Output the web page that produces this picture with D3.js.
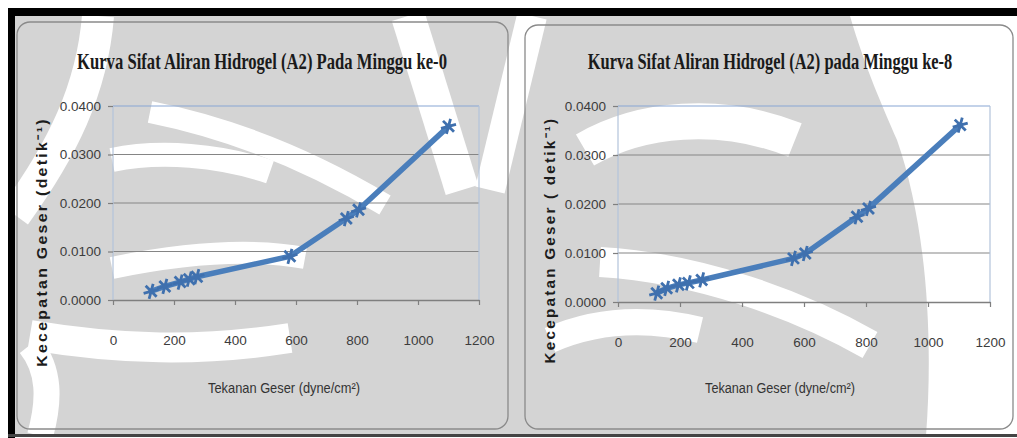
<!DOCTYPE html>
<html>
<head>
<meta charset="utf-8">
<script src="https://cdn.jsdelivr.net/npm/d3@7"></script>
<style>
  html, body { margin: 0; padding: 0; background: #ffffff; }
  svg { display: block; }
</style>
</head>
<body>
<svg id="chart" width="1017" height="438"></svg>
<script>
// Shear stress (dyne/cm²) and shear rate (1/s) for hydrogel A2, week 0 and week 8
const stressWeek0 = [125, 170, 220, 250, 275, 580, 765, 805, 1100];
const rateWeek0   = [0.0018, 0.0028, 0.0037, 0.0043, 0.0048, 0.0090, 0.0168, 0.0186, 0.0358];
const stressWeek8 = [125, 157, 195, 227, 270, 566, 604, 771, 808, 1104];
const rateWeek8   = [0.0018, 0.0028, 0.0035, 0.0039, 0.0045, 0.0089, 0.0099, 0.0174, 0.0191, 0.0361];

const xTickValues = [0, 200, 400, 600, 800, 1000, 1200];
const yTickValues = [0, 0.01, 0.02, 0.03, 0.04];

const chartTitles = [
  "Kurva Sifat Aliran Hidrogel (A2) Pada Minggu ke-0",
  "Kurva Sifat Aliran Hidrogel (A2) pada Minggu ke-8"
];
const xAxisTitle = "Tekanan Geser (dyne/cm²)";
const yAxisTitles = ["Kecepatan Geser (detik⁻¹)", "Kecepatan Geser ( detik⁻¹)"];

// Layout of the two chart panels
const panels = [
  { stress: stressWeek0, rate: rateWeek0, title: chartTitles[0], yTitle: yAxisTitles[0],
    box: { x: 17, y: 22, w: 491, h: 407 },
    plot: { left: 113, right: 479, top: 106, bottom: 300 },
    titleX: 262, titleLen: 370, yTitleX: 42, yTitleY: 242, yTitleLen: 250,
    xTitleX: 284, xTitleLen: 152 },
  { stress: stressWeek8, rate: rateWeek8, title: chartTitles[1], yTitle: yAxisTitles[1],
    box: { x: 525, y: 25, w: 488, h: 404 },
    plot: { left: 618, right: 990, top: 106, bottom: 302 },
    titleX: 770, titleLen: 365, yTitleX: 550, yTitleY: 240, yTitleLen: 247,
    xTitleX: 780, xTitleLen: 150 }
];

const svg = d3.select("#chart");
const lineColor = "#4a7ebb";

// Page watermark: grey emblem with light swooshes, behind the charts
const watermark = svg.append("g");
watermark.append("rect").attr("x", 15).attr("y", 16).attr("width", 1002).attr("height", 420).attr("fill", "#d4d4d4");
watermark.append("path")
  .attr("d", "M850,16 L1017,16 L1017,436 L926,436 C934,330 925,220 897,140 C882,105 866,70 850,16 Z")
  .attr("fill", "#fff");
const swoosh = watermark.append("g").attr("fill", "none").attr("stroke", "#fff").attr("stroke-linecap", "butt");
[
  ["M 585,150 C 640,118 720,110 795,140", 36],
  ["M 600,262 C 700,268 800,305 870,345", 30],
  ["M 550,340 C 600,318 650,318 700,330", 26],
  ["M 408,16 L 462,190", 34],
  ["M 532,16 L 490,190", 30],
  ["M 98,16 C 92,90 62,150 15,215", 32],
  ["M 112,160 C 160,150 220,155 270,172", 24],
  ["M 150,112 C 230,128 310,160 385,205", 22],
  ["M 112,268 C 180,254 250,248 305,258", 22],
  ["M 30,335 C 120,350 200,352 290,338", 30],
  ["M 40,436 C 50,400 50,370 30,345", 26]
].forEach(([d, w]) => swoosh.append("path").attr("d", d).attr("stroke-width", w));

// Black page frame
svg.append("rect").attr("x", 8).attr("y", 8).attr("width", 1009).attr("height", 8).attr("fill", "#000");
svg.append("rect").attr("x", 8).attr("y", 8).attr("width", 7).attr("height", 430).attr("fill", "#000");
svg.append("rect").attr("x", 8).attr("y", 434).attr("width", 1009).attr("height", 3).attr("fill", "#444");

// Squeeze a text horizontally so it spans the given width
function fitWidth(sel, cx, cy, width, rotate) {
  const natural = sel.node().getComputedTextLength();
  const k = width / natural;
  sel.attr("text-anchor", "middle")
     .attr("transform", `translate(${cx},${cy})${rotate ? " rotate(-90)" : ""} scale(${k},1)`);
}

panels.forEach(p => {
  const g = svg.append("g");

  g.append("rect")
    .attr("x", p.box.x).attr("y", p.box.y)
    .attr("width", p.box.w).attr("height", p.box.h)
    .attr("rx", 13).attr("ry", 13)
    .attr("fill", "none").attr("stroke", "#8a8a8a").attr("stroke-width", 1.3);

  const x = d3.scaleLinear().domain([0, 1200]).range([p.plot.left, p.plot.right]);
  const y = d3.scaleLinear().domain([0, 0.04]).range([p.plot.bottom, p.plot.top]);

  // Horizontal gridlines
  g.append("g").selectAll("line").data(yTickValues.slice(1, -1)).join("line")
    .attr("x1", p.plot.left).attr("x2", p.plot.right)
    .attr("y1", d => y(d)).attr("y2", d => y(d))
    .attr("stroke", "#858585").attr("stroke-width", 1.2);

  // Plot area border
  g.append("line").attr("x1", p.plot.left).attr("x2", p.plot.right)
    .attr("y1", p.plot.top).attr("y2", p.plot.top)
    .attr("stroke", "#87a5d3").attr("stroke-width", 1.2);
  g.append("line").attr("x1", p.plot.left).attr("x2", p.plot.left)
    .attr("y1", p.plot.top).attr("y2", p.plot.bottom)
    .attr("stroke", "#b3c3da").attr("stroke-width", 1.2);
  g.append("line").attr("x1", p.plot.right).attr("x2", p.plot.right)
    .attr("y1", p.plot.top).attr("y2", p.plot.bottom)
    .attr("stroke", "#b3c3da").attr("stroke-width", 1.2);

  // X axis
  const xAxis = g.append("g")
    .attr("transform", `translate(0,${p.plot.bottom})`)
    .call(d3.axisBottom(x).tickValues(xTickValues).tickFormat(d3.format("d"))
      .tickSize(5).tickPadding(30).tickSizeOuter(0));
  xAxis.select(".domain").attr("stroke", "#7f7f7f").attr("stroke-width", 1.3);
  xAxis.selectAll(".tick line").attr("stroke", "#7f7f7f").attr("stroke-width", 1.2);
  xAxis.selectAll(".tick text")
    .attr("fill", "#3c3c3c").style("font-family", "'Liberation Sans', sans-serif").style("font-size", "13.5px");

  // Y axis
  const yAxis = g.append("g")
    .attr("transform", `translate(${p.plot.left},0)`)
    .call(d3.axisLeft(y).tickValues(yTickValues).tickFormat(d3.format(".4f"))
      .tickSize(5).tickPadding(7).tickSizeOuter(0));
  yAxis.select(".domain").remove();
  yAxis.selectAll(".tick line").attr("stroke", "#7f7f7f").attr("stroke-width", 1.2);
  yAxis.selectAll(".tick text")
    .attr("fill", "#3c3c3c").style("font-family", "'Liberation Sans', sans-serif").style("font-size", "13.5px");

  // Data series
  const pts = p.stress.map((s, i) => [s, p.rate[i]]);
  const line = d3.line().x(d => x(d[0])).y(d => y(d[1]));
  g.append("path").datum(pts)
    .attr("d", line)
    .attr("fill", "none").attr("stroke", lineColor)
    .attr("stroke-width", 5.5).attr("stroke-linejoin", "round").attr("stroke-linecap", "round");

  const marker = d3.symbol().type(d3.symbolAsterisk).size(170);
  g.append("g").selectAll("path").data(pts).join("path")
    .attr("transform", d => `translate(${x(d[0])},${y(d[1])}) rotate(15)`)
    .attr("d", marker)
    .attr("fill", "none").attr("stroke", "#3f70ae").attr("stroke-width", 2.8);

  // Titles
  const title = g.append("text")
    .style("font-family", "'Liberation Serif', serif").style("font-weight", "bold").style("font-size", "23.5px")
    .attr("fill", "#1a1a1a")
    .text(p.title);
  fitWidth(title, p.titleX, 69, p.titleLen, false);

  const yTitle = g.append("text")
    .style("font-family", "'Liberation Sans', sans-serif").style("font-weight", "bold").style("font-size", "15px")
    .style("letter-spacing", "2.2px")
    .attr("fill", "#1c1c1c")
    .text(p.yTitle);
  fitWidth(yTitle, p.yTitleX + 5, p.yTitleY, p.yTitleLen, true);

  const xTitle = g.append("text")
    .style("font-family", "'Liberation Sans', sans-serif").style("font-size", "14px")
    .attr("fill", "#333")
    .text(xAxisTitle);
  fitWidth(xTitle, p.xTitleX, 393, p.xTitleLen, false);
});
</script>
</body>
</html>
